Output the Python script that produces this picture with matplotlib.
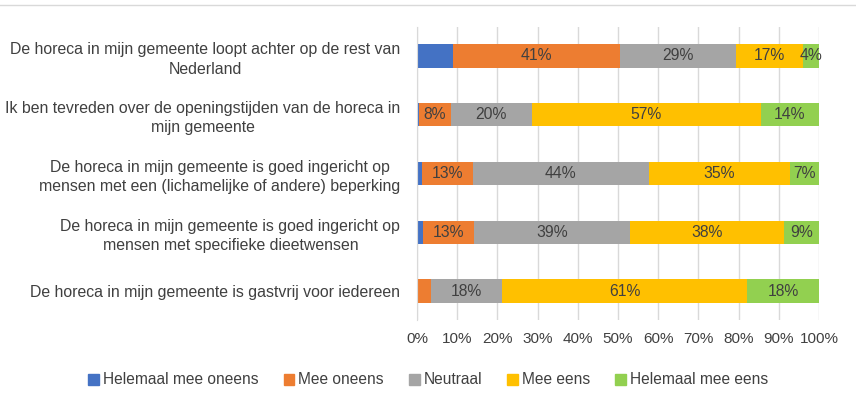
import matplotlib
matplotlib.use("Agg")
import matplotlib.pyplot as plt
from matplotlib.lines import Line2D

categories = [
    "De horeca in mijn gemeente loopt achter op de rest van\nNederland",
    "Ik ben tevreden over de openingstijden van de horeca in\nmijn gemeente",
    "De horeca in mijn gemeente is goed ingericht op\nmensen met een (lichamelijke of andere) beperking",
    "De horeca in mijn gemeente is goed ingericht op\nmensen met specifieke dieetwensen",
    "De horeca in mijn gemeente is gastvrij voor iedereen",
]
series_names = ["Helemaal mee oneens", "Mee oneens", "Neutraal", "Mee eens", "Helemaal mee eens"]
helemaal_oneens = [9.0, 0.6, 1.3, 1.5, 0.3]
mee_oneens = [41.4, 7.8, 12.7, 12.7, 3.2]
neutraal = [29.0, 20.2, 43.6, 38.8, 17.6]
mee_eens = [16.6, 56.9, 35.2, 38.3, 61.1]
helemaal_eens = [4.0, 14.5, 7.2, 8.7, 17.8]
xticks = [0, 10, 20, 30, 40, 50, 60, 70, 80, 90, 100]

colors = ["#4472C4", "#ED7D31", "#A5A5A5", "#FFC000", "#92D050"]
show_labels = [False, True, True, True, True]

plt.rcParams['font.family'] = ['Liberation Sans', 'DejaVu Sans']
txt = "#404040"

fig = plt.figure(figsize=(8.56, 4.05), dpi=100)
ax = fig.add_axes([417/856, 1-320.4/405, (819-417)/856, (320.4-26.6)/405])

data = [helemaal_oneens, mee_oneens, neutraal, mee_eens, helemaal_eens]
ypos = list(range(len(categories)))
left = [0.0]*len(categories)
for name, vals, col, lab in zip(series_names, data, colors, show_labels):
    ax.barh(ypos, vals, left=left, height=0.4, color=col, label=name, zorder=3)
    if lab:
        for i, v in enumerate(vals):
            if v >= 3.5:
                ax.text(left[i] + v/2, ypos[i], f"{v:.0f}%", ha="center", va="center",
                        fontsize=11.3, color=txt, zorder=4)
    left = [l + v for l, v in zip(left, vals)]

ax.set_xlim(0, 100)
ax.set_ylim(4.5, -0.5)
ax.set_xticks(xticks)
ax.set_xticklabels([f"{t}%" for t in xticks], fontsize=11, color=txt)
ax.set_yticks(ypos)
ax.set_yticklabels(categories, fontsize=11.4, color=txt, multialignment="center", linespacing=1.35)
ax.tick_params(axis="both", length=0)
ax.tick_params(axis="y", pad=12)
ax.tick_params(axis="x", pad=8)
ax.grid(axis="x", color="#D9D9D9", linewidth=1, zorder=0)
for s in ["top", "right", "bottom"]:
    ax.spines[s].set_visible(False)
ax.spines["left"].set_color("#D9D9D9")
ax.spines["left"].set_zorder(5)

handles = [plt.Rectangle((0, 0), 1, 1, color=c) for c in colors]
fig.legend(handles, series_names, loc="center", bbox_to_anchor=(0.5, 1-380/405), ncol=5,
           frameon=False, fontsize=11.2, labelcolor=txt, handlelength=0.7, handleheight=0.7,
           handletextpad=0.25, columnspacing=1.6)

fig.add_artist(Line2D([0, 1], [1-5/405, 1-5/405], color="#D9D9D9", linewidth=1, transform=fig.transFigure))

fig.savefig("out.png", dpi=100, facecolor="white")
